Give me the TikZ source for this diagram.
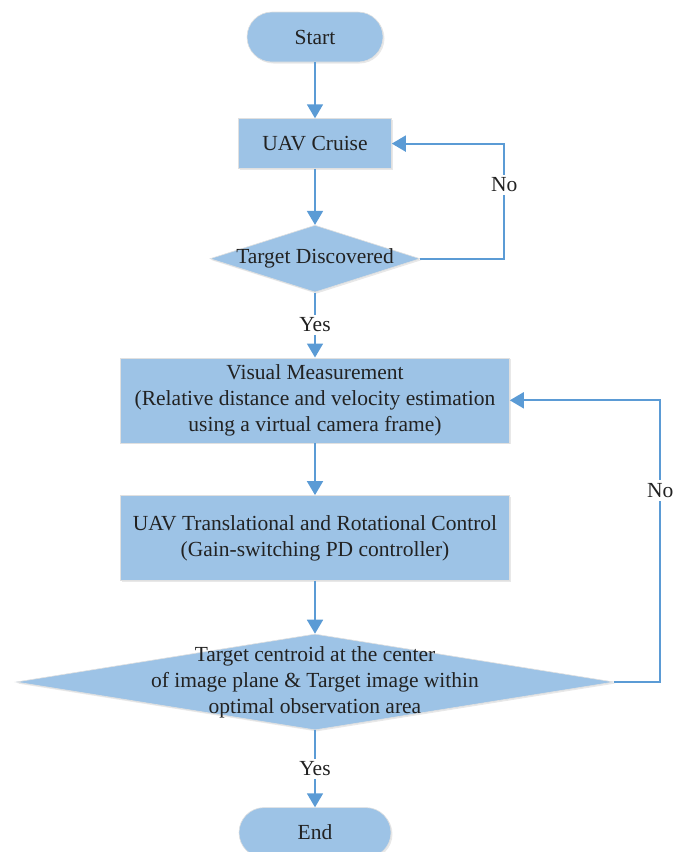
\documentclass[tikz,border=0pt]{standalone}
\usepackage{fontspec}
\setmainfont{Liberation Serif}
\newfontfamily\timesfont{Liberation Serif}
\usetikzlibrary{arrows.meta,positioning,shapes.geometric,shadows}
\definecolor{boxblue}{HTML}{9DC3E6}
\definecolor{lineblue}{HTML}{5B9BD5}
\definecolor{inkgray}{HTML}{222222}

\begin{document}
\begin{tikzpicture}[x=1pt, y=1pt, ->, >={Triangle[width=16pt,length=14pt]},
    font=\timesfont\fontsize{21.5}{26}\selectfont, align=center,
    node distance=56pt,
    process/.style={rectangle, fill=boxblue, draw=black!12, line width=0.6pt, text=inkgray,
      minimum width=389pt, minimum height=85pt,
      drop shadow={opacity=0.18, shadow xshift=1.5pt, shadow yshift=-1.5pt}},
    terminal/.style={process, rounded corners=25pt, minimum width=136pt, minimum height=50pt},
    decision/.style={diamond, fill=boxblue, draw=black!12, line width=0.6pt, inner sep=0pt,
      drop shadow={opacity=0.18, shadow xshift=1.5pt, shadow yshift=-1.5pt}},
    flow/.style={draw, color=lineblue, line width=1.8pt},
    tag/.style={fill=white, text=inkgray, inner sep=3pt},
    every label/.style={text=inkgray}
    ]
    \useasboundingbox (0,0) rectangle (673,-852);

    \node[terminal] (start) at (315,-37) {Start};
    \node[process, minimum width=153pt, minimum height=50pt] (cruise) [below=56pt of start] {UAV Cruise};
    \node[decision, minimum width=210pt, minimum height=67pt,
      label={center:Target Discovered}] (found) [below=56pt of cruise] {};
    \node[process] (measure) [below=65pt of found]
      {Visual Measurement\\(Relative distance and velocity estimation\\using a virtual camera frame)};
    \node[process] (control) [below=52pt of measure]
      {UAV Translational and Rotational Control\\(Gain-switching PD controller)};
    \node[decision, minimum width=598pt, minimum height=96pt,
      label={center:Target centroid at the center\\of image plane \& Target image within\\optimal observation area}]
      (check) [below=53pt of control] {};
    \node[terminal, minimum width=152pt] (finish) [below=77pt of check] {End};

    \path[flow]
    (start)   edge                      (cruise)
    (cruise)  edge                      (found)
    (found)   edge node[tag] {Yes}      (measure)
    (measure) edge                      (control)
    (control) edge                      (check)
    (check)   edge node[tag] {Yes}      (finish);

    \draw[flow] (found.east) -- ++(84,0) |- node[tag, pos=0.32] {No} (cruise.east);
    \draw[flow] (check.east) -- ++(46,0) |- node[tag, pos=0.34] {No} (measure.east);
  \end{tikzpicture}
\end{document}
